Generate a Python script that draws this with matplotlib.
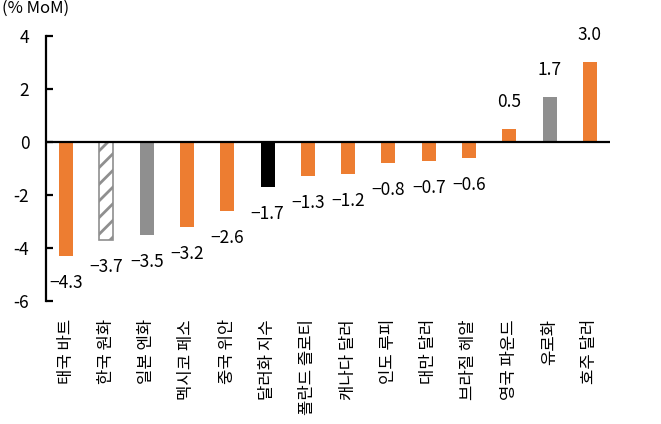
import matplotlib
matplotlib.use("Agg")
import matplotlib.pyplot as plt

plt.rcParams['font.family'] = ['Noto Sans CJK KR', 'DejaVu Sans']
plt.rcParams['hatch.linewidth'] = 2.0

categories = ["태국 바트", "한국 원화", "일본 엔화", "멕시코 페소", "중국 위안", "달러화 지수",
              "폴란드 즐로티", "캐나다 달러", "인도 루피", "대만 달러", "브라질 헤알",
              "영국 파운드", "유로화", "호주 달러"]
values = [-4.3, -3.7, -3.5, -3.2, -2.6, -1.7, -1.3, -1.2, -0.8, -0.7, -0.6, 0.5, 1.7, 3.0]
kinds = ["o", "h", "g", "o", "o", "k", "o", "o", "o", "o", "o", "o", "g", "o"]
yticks = [4, 2, 0, -2, -4, -6]

ORANGE = "#ED7D31"
GRAY = "#8F8F8F"
color_map = {"o": ORANGE, "g": GRAY, "k": "#000000", "h": "white"}

fig = plt.figure(figsize=(6.61, 4.24), dpi=100)
ax = fig.add_axes([46/661, 1-301/424, (610-46)/661, (301-36)/424])

x = list(range(len(categories)))
for i, (v, k) in enumerate(zip(values, kinds)):
    if k == "h":
        ax.bar(i, v, width=0.35, color="white", edgecolor=GRAY, hatch="//", linewidth=1.2)
    else:
        ax.bar(i, v, width=0.35, color=color_map[k], edgecolor="none")
    off = 27 if v > 0 else -27
    ax.annotate(f"{v:.1f}".replace("-", "\u2212"), (i, v), xytext=(0, off),
                textcoords="offset pixels", ha="center", va="center", fontsize=12.5)

ax.axhline(0, color="black", linewidth=1.6, xmin=0, xmax=1)
ax.set_xlim(-0.5, len(categories) - 0.5)
ax.set_ylim(-6, 4)
ax.set_yticks(yticks)
ax.set_yticklabels([str(t) for t in yticks], fontsize=12.5)
ax.set_xticks(x)
ax.set_xticklabels(categories, rotation=90, fontsize=12, va="top", ha="center")
ax.tick_params(axis="x", length=0, pad=13)
ax.tick_params(axis="y", direction="in", length=5, width=1.6, pad=12)
for s in ["top", "right", "bottom"]:
    ax.spines[s].set_visible(False)
ax.spines["left"].set_linewidth(1.6)

fig.text(0.003, 1.0, "(% MoM)", fontsize=12, va="top", ha="left")

fig.savefig("out.png", dpi=100)
